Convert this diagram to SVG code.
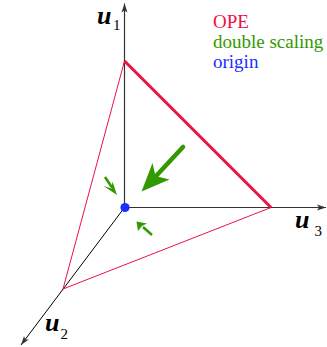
<svg xmlns="http://www.w3.org/2000/svg" width="327" height="347" viewBox="0 0 327 347">
<defs>
<style>
.axis{stroke:#333;stroke-width:1.2;fill:none}
.ope{stroke:#ee1144;fill:none}
.ds{fill:#339900}
.shaft{stroke:#339900;fill:none}
text{font-family:'Liberation Serif','Times New Roman',Times,'DejaVu Serif',serif}
.lbl{font-style:italic;font-weight:bold;fill:#000;font-size:26px}
.sub{fill:#000;font-size:15px}
.leg{font-size:19px}
</style>
<marker id="ah" markerWidth="10" markerHeight="8" refX="9" refY="4" orient="auto" markerUnits="userSpaceOnUse">
<path d="M0,1 L9,4 L0,7 L2,4 Z" fill="#333"/>
</marker>
</defs>
<g id="connectors">
<line class="axis" x1="124.5" y1="207.5" x2="124.5" y2="3.5" marker-end="url(#ah)"/>
<line class="axis" x1="124.5" y1="207.5" x2="326" y2="207.5" marker-end="url(#ah)"/>
<line class="axis" x1="124.5" y1="207.5" x2="21" y2="345" marker-end="url(#ah)" style="stroke:#000;stroke-width:1"/>
<line class="ope" x1="124.5" y1="61" x2="271" y2="207.5" stroke-width="3"/>
<line class="ope" x1="124.5" y1="61" x2="63" y2="289" stroke-width="1"/>
<line class="ope" x1="63" y1="289" x2="271" y2="207.5" stroke-width="1"/>
</g>
<g id="big-arrow">
<line class="shaft" x1="183" y1="147" x2="157" y2="175" stroke-width="4.5" stroke-linecap="round"/>
<path class="ds" d="M141.5,191.5 L152.5,163 L155.5,176 L169.5,179.5 Z"/>
</g>
<g id="small-arrow-1">
<line class="shaft" x1="105" y1="177" x2="112" y2="187.5" stroke-width="2.5"/>
<path class="ds" d="M117,195 L103.5,186 L111.5,188.5 L112.5,181.5 Z"/>
</g>
<g id="small-arrow-2">
<line class="shaft" x1="152" y1="235" x2="143" y2="227" stroke-width="2.5"/>
<path class="ds" d="M136.5,221.5 L138,231 L142,226 L147,223.5 Z"/>
</g>
<g id="origin">
<circle cx="125" cy="207.5" r="4.6" fill="#1a2eff"/>
</g>
<g id="label-u1">
<text class="lbl" x="97" y="24">u</text>
<text class="sub" x="113" y="30">1</text>
</g>
<g id="label-u3">
<text class="lbl" x="295" y="228">u</text>
<text class="sub" x="314.5" y="236">3</text>
</g>
<g id="label-u2">
<text class="lbl" x="45" y="331">u</text>
<text class="sub" x="60.5" y="339">2</text>
</g>
<g id="legend">
<text class="leg" x="213" y="28" fill="#ee1144">OPE</text>
<text class="leg" x="213" y="48" fill="#339900">double scaling</text>
<text class="leg" x="213" y="68" fill="#1a2eff">origin</text>
</g>
</svg>
